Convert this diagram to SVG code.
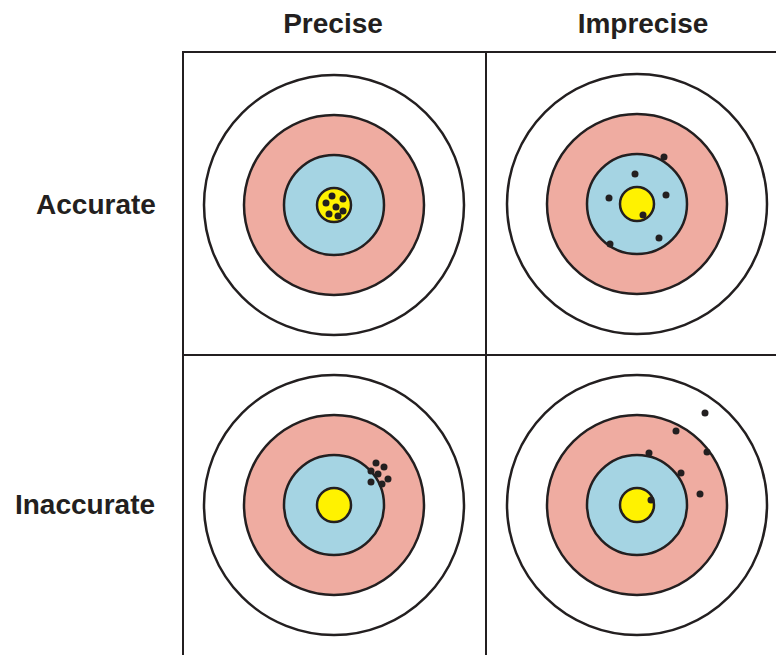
<svg xmlns="http://www.w3.org/2000/svg" width="776" height="655" viewBox="0 0 776 655">
<style>
.lbl{font-family:"Liberation Sans",Arial,sans-serif;font-weight:bold;font-size:28px;fill:#231f20;text-anchor:middle}
.grid{stroke:#231f20;stroke-width:2;fill:none}
.ring{stroke:#231f20;stroke-width:2.5}
.w{fill:#ffffff}.p{fill:#efaca1}.b{fill:#a5d4e3}.y{fill:#fff200}
.d{fill:#231f20}
</style>
<defs>
<g id="target">
<circle class="ring w" r="130"/>
<circle class="ring p" r="90"/>
<circle class="ring b" r="50"/>
<circle class="ring y" r="17"/>
</g>
</defs>
<rect width="776" height="655" fill="#ffffff"/>
<g id="labels">
<text class="lbl" x="333" y="33">Precise</text>
<text class="lbl" x="643" y="33">Imprecise</text>
<text class="lbl" x="96" y="214">Accurate</text>
<text class="lbl" x="85" y="514">Inaccurate</text>
</g>
<g id="target-accurate-precise">
<use href="#target" x="334" y="205"/>
<g class="d">
<circle cx="332" cy="196" r="3.5"/><circle cx="343" cy="199" r="3.5"/><circle cx="326" cy="203" r="3.5"/><circle cx="336" cy="207" r="3.5"/><circle cx="343" cy="211" r="3.5"/><circle cx="329" cy="214" r="3.5"/><circle cx="338" cy="216" r="3.5"/>
</g>
</g>
<g id="target-accurate-imprecise">
<use href="#target" x="637" y="204"/>
<g class="d">
<circle cx="664" cy="157" r="3.5"/><circle cx="635" cy="174" r="3.5"/><circle cx="609" cy="198" r="3.5"/><circle cx="666" cy="195" r="3.5"/><circle cx="643" cy="215" r="3.5"/><circle cx="659" cy="238" r="3.5"/><circle cx="610" cy="244" r="3.5"/>
</g>
</g>
<g id="target-inaccurate-precise">
<use href="#target" x="334" y="505"/>
<g class="d">
<circle cx="376" cy="463" r="3.5"/><circle cx="384" cy="467" r="3.5"/><circle cx="371" cy="471" r="3.5"/><circle cx="378" cy="474" r="3.5"/><circle cx="388" cy="479" r="3.5"/><circle cx="371" cy="482" r="3.5"/><circle cx="382" cy="484" r="3.5"/>
</g>
</g>
<g id="target-inaccurate-imprecise">
<use href="#target" x="637" y="505"/>
<g class="d">
<circle cx="705" cy="413" r="3.5"/><circle cx="676" cy="431" r="3.5"/><circle cx="649" cy="453" r="3.5"/><circle cx="707" cy="452" r="3.5"/><circle cx="681" cy="473" r="3.5"/><circle cx="700" cy="494" r="3.5"/><circle cx="651" cy="500" r="3.5"/>
</g>
</g>
<g id="grid" class="grid">
<line x1="183" y1="52" x2="776" y2="52"/>
<line x1="183" y1="355" x2="776" y2="355"/>
<line x1="183" y1="51" x2="183" y2="655"/>
<line x1="486" y1="51" x2="486" y2="655"/>
</g>
</svg>
